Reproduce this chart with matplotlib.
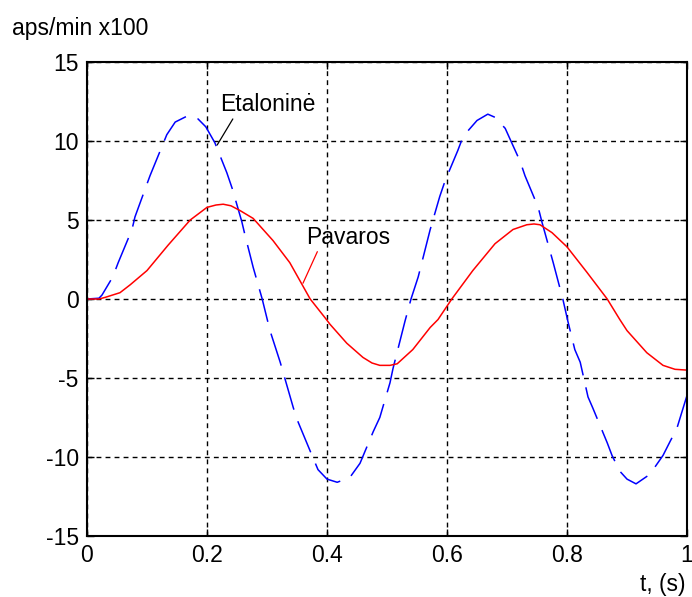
import numpy as np
import matplotlib
matplotlib.use('Agg')
import matplotlib.pyplot as plt

plt.rcParams['font.family'] = ['Liberation Sans', 'DejaVu Sans']
plt.rcParams['axes.unicode_minus'] = False

# Etalonine (blue dashed)
t_blue = [0, 0.02, 0.025, 0.043, 0.052, 0.075, 0.08, 0.105, 0.133, 0.147, 0.168, 0.185,
          0.198, 0.213, 0.233, 0.242, 0.258, 0.263, 0.277, 0.292, 0.305, 0.322, 0.344,
          0.352, 0.375, 0.385, 0.40, 0.417, 0.438, 0.455, 0.477, 0.488, 0.505, 0.51,
          0.53, 0.54, 0.552, 0.572, 0.588, 0.597, 0.618, 0.627, 0.65, 0.668, 0.68,
          0.697, 0.722, 0.73, 0.752, 0.758, 0.777, 0.793, 0.802, 0.813, 0.822, 0.835,
          0.843, 0.867, 0.875, 0.888, 0.90, 0.915, 0.938, 0.96, 0.972, 0.983, 1.0]
y_blue = [0, 0.05, 0.25, 1.4, 2.3, 4.4, 5.2, 7.8, 10.4, 11.2, 11.6, 11.4,
          10.9, 9.9, 8.0, 7.0, 4.9, 4.1, 2.0, 0.0, -2.0, -4.0, -6.9,
          -7.8, -9.9, -10.8, -11.4, -11.6, -11.3, -10.4, -8.4, -7.5, -5.3, -4.4,
          -1.4, 0.0, 1.4, 4.4, 6.5, 7.5, 9.4, 10.3, 11.3, 11.7, 11.5,
          10.8, 8.7, 7.8, 5.8, 4.9, 2.3, 0.0, -1.5, -3.2, -4.0, -6.2,
          -6.9, -9.1, -9.9, -10.9, -11.4, -11.7, -11.1, -9.9, -9.0, -8.2, -6.1]

# Pavaros (red solid)
t_red = [0, 0.02, 0.03, 0.055, 0.072, 0.1, 0.135, 0.172, 0.2, 0.215, 0.227, 0.24, 0.255, 0.277,
         0.31, 0.338, 0.372, 0.397, 0.405, 0.433, 0.46, 0.475, 0.488, 0.505, 0.517, 0.543,
         0.572, 0.585, 0.608, 0.643, 0.68, 0.71, 0.733, 0.745, 0.755, 0.775, 0.8, 0.833, 0.867,
         0.888, 0.9, 0.933, 0.96, 0.98, 1.0]
y_red = [0, 0.0, 0.1, 0.4, 0.9, 1.8, 3.4, 5.0, 5.8, 5.95, 6.0, 5.9, 5.6, 5.1,
         3.7, 2.3, 0.0, -1.2, -1.6, -2.8, -3.7, -4.05, -4.2, -4.2, -4.1, -3.2,
         -1.8, -1.3, 0.0, 1.8, 3.5, 4.4, 4.7, 4.75, 4.7, 4.2, 3.3, 1.7, 0.0,
         -1.3, -2.0, -3.4, -4.2, -4.45, -4.5]

x_ticks = [0, 0.2, 0.4, 0.6, 0.8, 1]
x_ticklabels = ['0', '0.2', '0.4', '0.6', '0.8', '1']
y_ticks = [-15, -10, -5, 0, 5, 10, 15]

fs = 16.5
fig = plt.figure(figsize=(6.92, 5.97), dpi=100)
ax = fig.add_axes([0.1257, 0.1022, 0.8671, 0.7939])

ax.plot(t_blue, y_blue, color='#0000ff', lw=1.1, dashes=(22, 8))
ax.plot(t_red, y_red, color='#ff0000', lw=1.1)

ax.set_xlim(0, 1)
ax.set_ylim(-15, 15)
ax.set_xticks(x_ticks)
ax.set_xticklabels(x_ticklabels)
ax.set_yticks(y_ticks)
ax.grid(True, color='black', linestyle=(0, (3.5, 3)), lw=1.0)
ax.tick_params(direction='in', length=5, width=1, labelsize=fs,
               top=True, right=True, pad=6)
for s in ax.spines.values():
    s.set_linewidth(1.5)

ax.annotate('Etaloninė', xy=(0.217, 9.75), xytext=(0.222, 12.3),
            fontsize=fs, va='center', ha='left',
            arrowprops=dict(arrowstyle='-', color='black', lw=0.9,
                            shrinkA=0, shrinkB=0, relpos=(0.15, 0)))
ax.annotate('Pavaros', xy=(0.36, 1.0), xytext=(0.365, 3.9),
            fontsize=fs, va='center', ha='left',
            arrowprops=dict(arrowstyle='-', color='red', lw=0.9,
                            shrinkA=0, shrinkB=0, relpos=(0.15, 0)))

fig.text(12 / 692, 1 - 28 / 597, 'aps/min x100', fontsize=fs, va='center', ha='left')
fig.text(686 / 692, 1 - 585 / 597, 't, (s)', fontsize=fs, va='center', ha='right')

fig.savefig('out.png', dpi=100)
